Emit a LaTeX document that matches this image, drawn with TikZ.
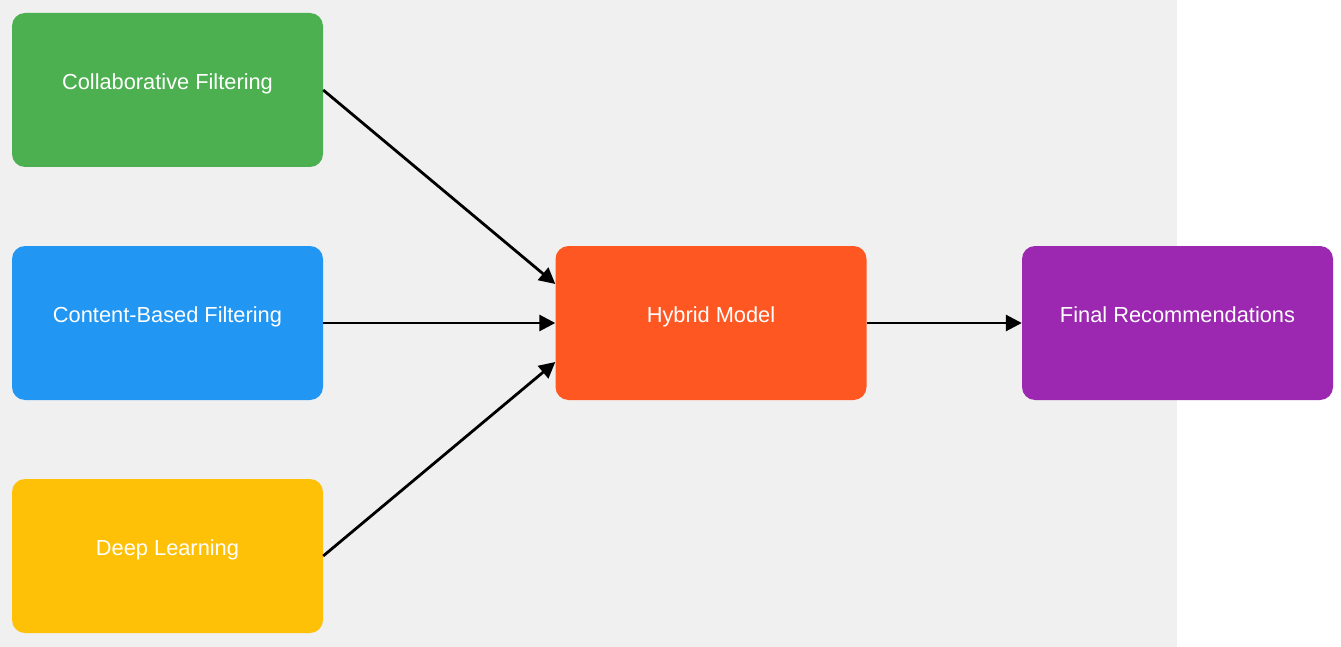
\documentclass[tikz,border=0pt]{standalone}
\usepackage{fontspec}
\setmainfont{Liberation Sans}
\usetikzlibrary{arrows.meta}
\definecolor{bggray}{HTML}{F0F0F0}
\definecolor{cfgreen}{HTML}{4CAF50}
\definecolor{cbblue}{HTML}{2196F3}
\definecolor{dlamber}{HTML}{FFC107}
\definecolor{hmorange}{HTML}{FF5722}
\definecolor{frpurple}{HTML}{9C27B0}
\tikzset{
    box/.style={rounded corners=13pt,minimum width=311pt,minimum height=154pt,inner sep=0pt,
        text height=15pt,text depth=16pt,text=white,font=\fontsize{21.8}{25}\selectfont},
    link/.style={line width=2.8pt,black,-{Triangle[length=16pt,width=16pt]}}
}
\begin{document}
\begin{tikzpicture}[x=1pt,y=-1pt]
    \useasboundingbox (0,0) rectangle (1341,647);
    \fill[bggray] (0,0) rectangle (1177,647);

    \node[box,fill=cfgreen] (cf) at (167.5,90) {Collaborative Filtering};
    \node[box,fill=cbblue] (cb) at (167.5,323) {Content-Based Filtering};
    \node[box,fill=dlamber] (dl) at (167.5,556) {Deep Learning};
    \node[box,fill=hmorange] (hm) at (711,323) {Hybrid Model};
    \node[box,fill=frpurple] (fr) at (1177.5,323) {Final Recommendations};

    \draw[link] (cf.east) -- ([yshift=39pt]hm.west);
    \draw[link] (cb.east) -- (hm.west);
    \draw[link] (dl.east) -- ([yshift=-39pt]hm.west);
    \draw[link] (hm.east) -- (fr.west);
\end{tikzpicture}
\end{document}
